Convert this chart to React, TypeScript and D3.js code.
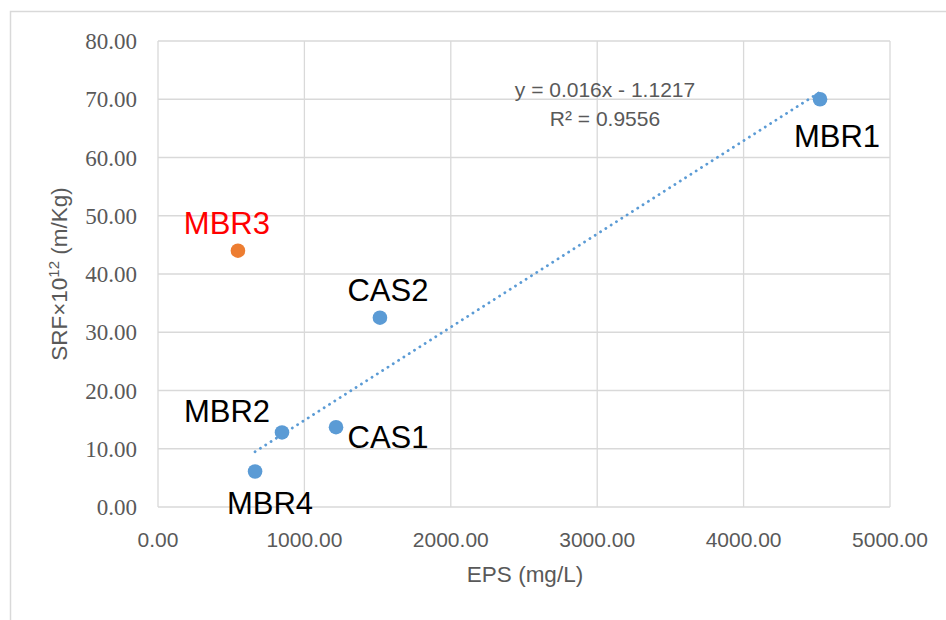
import React from 'react';
import * as d3 from 'd3';

// blue series (with trendline)
const labels = ['MBR1', 'CAS2', 'MBR2', 'CAS1', 'MBR4'];
const epsValues = [4522, 1516, 847, 1216, 663];
const srfValues = [70.0, 32.5, 12.8, 13.7, 6.1];

// orange outlier series
const outlierLabel = 'MBR3';
const outlierEps = 546;
const outlierSrf = 44.0;

// trendline from Excel
const slope = 0.016;
const intercept = -1.1217;
const eqText = 'y = 0.016x - 1.1217';
const r2Text = 'R² = 0.9556';

const xTicks = [0, 1000, 2000, 3000, 4000, 5000];
const yTicks = [0, 10, 20, 30, 40, 50, 60, 70, 80];

// label offsets (px) relative to the marker
const labelOffsets: Record<string, [number, number]> = {
  MBR1: [17, 48],
  CAS2: [8, -17],
  MBR2: [-55, -10],
  CAS1: [52, 21],
  MBR4: [15, 43],
  MBR3: [-11, -17],
};

export default function App() {
  const W = 946;
  const H = 620;
  const x = d3.scaleLinear().domain([0, 5000]).range([158, 890]);
  const y = d3.scaleLinear().domain([0, 80]).range([507, 41]);
  const grid = '#d9d9d9';
  const txt = '#595959';
  const blue = '#5b9bd5';

  const [xmin, xmax] = d3.extent(epsValues) as [number, number];
  const trend = d3.line<number>().x((v) => x(v)).y((v) => y(slope * v + intercept));

  const sans = 'Liberation Sans, Arial, sans-serif';
  const serif = 'Liberation Serif, DejaVu Serif, Times New Roman, serif';

  return (
    <svg
      width={W}
      height={H}
      viewBox={`0 0 ${W} ${H}`}
      style={{ position: 'absolute', left: 0, top: 0, background: '#fff' }}
    >
      <rect x={10.5} y={11.5} width={1000} height={1000} fill="#fff" stroke={grid} strokeWidth={1.5} />

      {/* grid */}
      {yTicks.map((t) => (
        <line key={`gy${t}`} x1={x(0)} x2={x(5000)} y1={y(t)} y2={y(t)} stroke={grid} strokeWidth={1.3} />
      ))}
      {xTicks.map((t) => (
        <line key={`gx${t}`} x1={x(t)} x2={x(t)} y1={y(0)} y2={y(80)} stroke={grid} strokeWidth={1.3} />
      ))}

      {/* y tick labels */}
      {yTicks.map((t) => (
        <text key={`ty${t}`} x={137} y={y(t)} dy="0.35em" textAnchor="end" style={{ fontFamily: serif }} fontSize={23} fill={txt}>
          {t.toFixed(2)}
        </text>
      ))}
      {/* x tick labels */}
      {xTicks.map((t) => (
        <text key={`tx${t}`} x={x(t)} y={547} textAnchor="middle" fontFamily={sans} fontSize={21} fill={txt}>
          {t.toFixed(2)}
        </text>
      ))}

      {/* axis titles */}
      <text x={525} y={582} textAnchor="middle" fontFamily={sans} fontSize={22.5} fill={txt}>
        EPS (mg/L)
      </text>
      <text transform="translate(67,274) rotate(-90)" textAnchor="middle" fontFamily={sans} fontSize={22.5} fill={txt}>
        SRF×10<tspan fontSize={15} dy={-8}>12</tspan>
        <tspan dy={8}> (m/Kg)</tspan>
      </text>

      {/* trendline */}
      <path
        d={trend([xmin, xmax]) || undefined}
        fill="none"
        stroke={blue}
        strokeWidth={2.8}
        strokeLinecap="round"
        strokeDasharray="0.1 6.2"
      />

      {/* markers */}
      {epsValues.map((v, i) => (
        <circle key={labels[i]} cx={x(v)} cy={y(srfValues[i])} r={7.3} fill={blue} />
      ))}
      <circle cx={x(outlierEps)} cy={y(outlierSrf)} r={7.3} fill="#ed7d31" />

      {/* point labels */}
      {epsValues.map((v, i) => {
        const [dx, dy] = labelOffsets[labels[i]];
        return (
          <text key={`l${labels[i]}`} x={x(v) + dx} y={y(srfValues[i]) + dy} textAnchor="middle" fontFamily={sans} fontSize={31} fill="#000">
            {labels[i]}
          </text>
        );
      })}
      <text
        x={x(outlierEps) + labelOffsets[outlierLabel][0]}
        y={y(outlierSrf) + labelOffsets[outlierLabel][1]}
        textAnchor="middle"
        fontFamily={sans}
        fontSize={31}
        fill="#ff0000"
      >
        {outlierLabel}
      </text>

      {/* equation */}
      <text x={605} y={97} textAnchor="middle" fontFamily={sans} fontSize={21} fill={txt}>
        {eqText}
      </text>
      <text x={605} y={126} textAnchor="middle" fontFamily={sans} fontSize={21} fill={txt}>
        {r2Text}
      </text>
    </svg>
  );
}
